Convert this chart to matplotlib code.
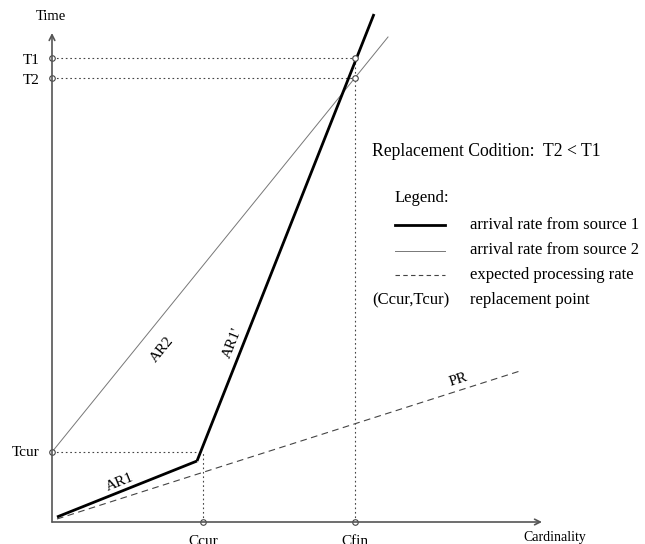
import matplotlib
matplotlib.use('Agg')
import matplotlib.pyplot as plt

plt.rcParams['font.family'] = ['Liberation Serif', 'DejaVu Serif']

# diagram coordinates (cardinality, time), origin at the axes corner
ar1_x = [5, 145]
ar1_y = [5, 61]
ar1b_x = [145, 322]
ar1b_y = [61, 508]
ar2_x = [0, 336]
ar2_y = [70, 485]
pr_x = [5, 468]
pr_y = [3, 151]

t1 = 464
t2 = 444
tcur = 70
ccur = 151
cfin = 303

legend_labels = ['arrival rate from source 1', 'arrival rate from source 2',
                 'expected processing rate', 'replacement point']

fig = plt.figure(figsize=(6.45, 5.44), dpi=100)
ax = fig.add_axes([0, 0, 1, 1])
ax.set_xlim(-52, 593)
ax.set_ylim(-22, 522)
ax.axis('off')

fs = 11
axis_col = '#555555'

# axes with arrows
ax.annotate('', xy=(490, 0), xytext=(0, 0),
            arrowprops=dict(arrowstyle='->', color=axis_col, lw=1.2,
                            shrinkA=0, shrinkB=0))
ax.annotate('', xy=(0, 489), xytext=(0, 0),
            arrowprops=dict(arrowstyle='->', color=axis_col, lw=1.2,
                            shrinkA=0, shrinkB=0))

# dotted guide lines
dot = dict(color='#444444', lw=0.8, linestyle=(0, (1.5, 2.5)))
ax.plot([0, cfin], [t1, t1], **dot)
ax.plot([0, cfin], [t2, t2], **dot)
ax.plot([cfin, cfin], [0, t1], **dot)
ax.plot([0, ccur], [tcur, tcur], **dot)
ax.plot([ccur, ccur], [0, tcur], **dot)

# rate lines
ax.plot(pr_x, pr_y, color='#444444', lw=0.8, linestyle=(0, (6, 4)))
ax.plot(ar2_x, ar2_y, color='#777777', lw=0.7)
ax.plot(ar1_x, ar1_y, color='black', lw=2, solid_capstyle='butt')
ax.plot(ar1b_x, ar1b_y, color='black', lw=2, solid_capstyle='butt')

# small circles
cx = [0, 0, 0, ccur, cfin, cfin, cfin]
cy = [t1, t2, tcur, 0, 0, t1, t2]
ax.plot(cx, cy, 'o', ms=4, mfc='white', mec='#444444', mew=0.8)

# axis texts
ax.text(-1, 506, 'Time', fontsize=10.5, ha='center', va='center')
ax.text(471, -15, 'Cardinality', fontsize=10, ha='left', va='center')
ax.text(-12, t1 - 2, 'T1', fontsize=fs, ha='right', va='center')
ax.text(-12, t2 - 2, 'T2', fontsize=fs, ha='right', va='center')
ax.text(-13, tcur, 'Tcur', fontsize=fs, ha='right', va='center')
ax.text(ccur, -13, 'Ccur', fontsize=fs, ha='center', va='top')
ax.text(cfin, -13, 'Cfin', fontsize=fs, ha='center', va='top')

# line labels
ax.text(68, 40, 'AR1', fontsize=fs, rotation=22, ha='center', va='center')
ax.text(110, 172, 'AR2', fontsize=fs, rotation=51, ha='center', va='center')
ax.text(181, 179, "AR1'", fontsize=fs, rotation=68, ha='center', va='center')
ax.text(406, 142, 'PR', fontsize=fs, rotation=18, ha='center', va='center')

# condition and legend
ax.text(320, 370, 'Replacement Codition:  T2 < T1', fontsize=12.7,
        ha='left', va='center')
ax.text(343, 324, 'Legend:', fontsize=12, ha='left', va='center')
ax.plot([343, 393], [297, 297], color='black', lw=2)
ax.plot([343, 393], [271, 271], color='#777777', lw=0.7)
ax.plot([343, 393], [247, 247], color='#444444', lw=0.8, linestyle=(0, (4, 3)))
ax.text(320, 222, '(Ccur,Tcur)', fontsize=12, ha='left', va='center')
for i, lab in enumerate(legend_labels):
    ax.text(418, 297 - 25 * i, lab, fontsize=12, ha='left', va='center')

fig.savefig('out.png', dpi=100)
